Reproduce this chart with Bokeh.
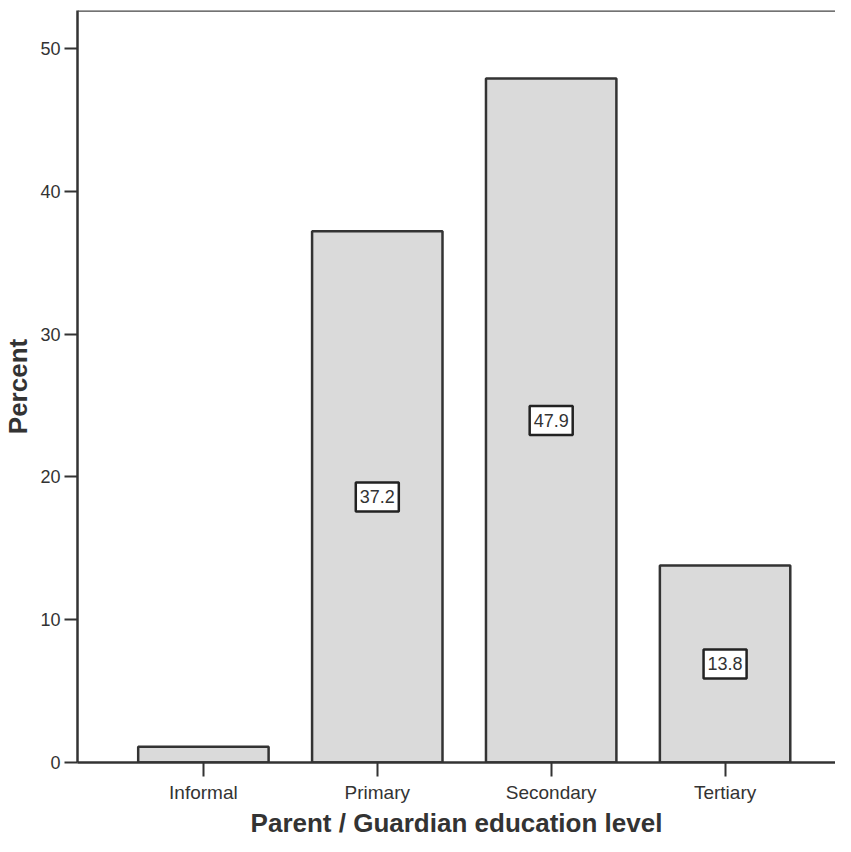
from bokeh.plotting import figure
from bokeh.models import ColumnDataSource, Range1d, FixedTicker, Span
from bokeh.core.properties import value
from bokeh.embed import file_html
from bokeh.resources import INLINE

categories = ["Informal", "Primary", "Secondary", "Tertiary"]
percents = [1.1, 37.2, 47.9, 13.8]
bar_labels = ["", "37.2", "47.9", "13.8"]
y_ticks = [0, 10, 20, 30, 40, 50]

xs = list(range(len(categories)))
src = ColumnDataSource(dict(x=xs, top=percents, cat=categories))
lab_src = ColumnDataSource(dict(
    x=[x for x, l in zip(xs, bar_labels) if l],
    y=[v / 2 for v, l in zip(percents, bar_labels) if l],
    text=[l for l in bar_labels if l],
))

FONT = "Liberation Sans"
TXT = "#333333"

p = figure(width=835, height=842, output_backend="svg", toolbar_location=None,
           x_range=Range1d(-0.724, 3.635), y_range=Range1d(0, 52.66),
           min_border_left=70, min_border_right=0, min_border_top=10, min_border_bottom=80)
p.outline_line_color = None
p.grid.grid_line_color = None
p.background_fill_color = "white"

p.vbar(x="x", top="top", bottom=0, width=0.75, source=src,
       fill_color="#dadada", line_color="#333333", line_width=2.5)

p.text(x="x", y="y", text="text", source=lab_src,
       text_align="center", text_baseline="middle",
       text_font=value(FONT), text_font_size="18px", text_color=TXT,
       background_fill_color="white", border_line_color="#222222",
       border_line_width=2.5, padding=dict(left=4, right=4, top=8, bottom=8))

top_line = Span(location=52.66, dimension="width", line_color="#444444", line_width=2.5)
p.add_layout(top_line)

# y axis
p.yaxis.ticker = FixedTicker(ticks=y_ticks)
p.yaxis.axis_label = "Percent"
p.yaxis.axis_label_text_font = FONT
p.yaxis.axis_label_text_font_style = "bold"
p.yaxis.axis_label_text_font_size = "26px"
p.yaxis.axis_label_text_color = TXT
p.yaxis.axis_label_standoff = 4
p.yaxis.major_label_text_font = FONT
p.yaxis.major_label_text_font_size = "18px"
p.yaxis.major_label_text_color = TXT
p.yaxis.major_label_standoff = 4
p.yaxis.major_tick_out = 13
p.yaxis.major_tick_in = 0
p.yaxis.minor_tick_line_color = None

# x axis
p.xaxis.ticker = FixedTicker(ticks=xs)
p.xaxis.major_label_overrides = {i: c for i, c in zip(xs, categories)}
p.xaxis.axis_label = "Parent / Guardian education level"
p.xaxis.axis_label_text_font = FONT
p.xaxis.axis_label_text_font_style = "bold"
p.xaxis.axis_label_text_font_size = "26px"
p.xaxis.axis_label_text_color = TXT
p.xaxis.axis_label_standoff = 2
p.xaxis.major_label_text_font = FONT
p.xaxis.major_label_text_font_size = "19px"
p.xaxis.major_label_text_color = TXT
p.xaxis.major_label_standoff = 5
p.xaxis.major_tick_out = 14
p.xaxis.major_tick_in = 0
p.xaxis.minor_tick_line_color = None

for ax in (p.xaxis, p.yaxis):
    ax.axis_line_color = "#333333"
    ax.axis_line_width = 2.5
    ax.major_tick_line_color = "#333333"
    ax.major_tick_line_width = 2

open("out.html", "w").write(file_html(p, INLINE))
